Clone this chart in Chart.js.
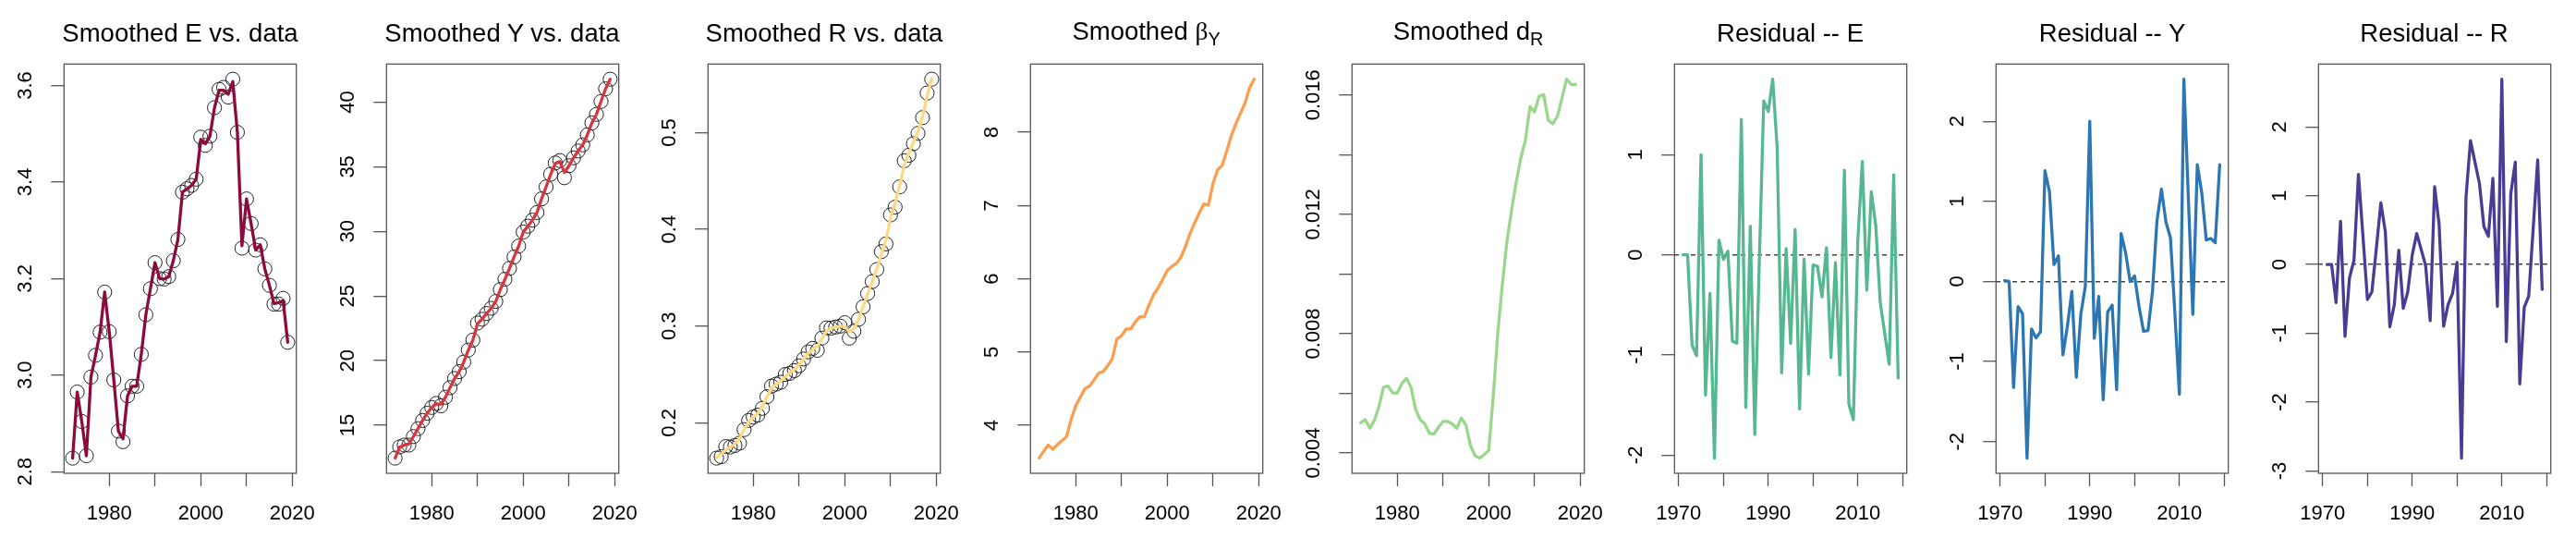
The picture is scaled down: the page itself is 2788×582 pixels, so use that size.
<!DOCTYPE html>
<html><head><meta charset="utf-8">
<script src="https://cdn.jsdelivr.net/npm/chart.js@4.4.1/dist/chart.umd.min.js"></script>
<style>
html,body{margin:0;padding:0;background:#fff;overflow:hidden;width:2788px;height:582px;}
#wrap{position:relative;width:2788px;height:582px;overflow:hidden;}
canvas{position:absolute;top:0;}
.title{position:absolute;font-family:'Liberation Sans',Arial,Helvetica,sans-serif;font-size:27.5px;line-height:1;white-space:nowrap;color:#000;transform:translateX(-50%);}
.title sub{font-size:72%;vertical-align:-0.3em;line-height:0;}
.greek{font-family:'Liberation Serif','DejaVu Serif',serif;}
</style></head><body><div id="wrap"></div>
<script>
// ---------- data ----------
const years = [1972,1973,1974,1975,1976,1977,1978,1979,1980,1981,1982,1983,1984,1985,1986,1987,1988,1989,1990,1991,1992,1993,1994,1995,1996,1997,1998,1999,2000,2001,2002,2003,2004,2005,2006,2007,2008,2009,2010,2011,2012,2013,2014,2015,2016,2017,2018,2019];
const residYears = [1971,1972,1973,1974,1975,1976,1977,1978,1979,1980,1981,1982,1983,1984,1985,1986,1987,1988,1989,1990,1991,1992,1993,1994,1995,1996,1997,1998,1999,2000,2001,2002,2003,2004,2005,2006,2007,2008,2009,2010,2011,2012,2013,2014,2015,2016,2017,2018,2019];

const E_data = [2.828,2.965,2.904,2.833,2.996,3.041,3.089,3.172,3.090,2.990,2.884,2.862,2.957,2.977,2.977,3.043,3.125,3.179,3.233,3.200,3.199,3.204,3.237,3.281,3.379,3.386,3.393,3.406,3.493,3.476,3.495,3.554,3.592,3.596,3.576,3.613,3.503,3.263,3.365,3.314,3.259,3.270,3.220,3.186,3.147,3.147,3.159,3.068];
const E_smooth = [2.828,2.965,2.904,2.833,2.996,3.041,3.089,3.172,3.090,2.990,2.884,2.868,2.957,2.977,2.977,3.043,3.125,3.179,3.233,3.200,3.199,3.204,3.237,3.281,3.379,3.386,3.393,3.406,3.488,3.479,3.495,3.554,3.590,3.590,3.582,3.608,3.503,3.268,3.365,3.314,3.259,3.270,3.220,3.186,3.148,3.150,3.154,3.068];

const Y_data = [12.46,13.33,13.47,13.47,14.13,14.74,15.37,15.93,16.38,16.69,16.51,17.17,17.91,18.62,19.15,19.89,20.82,21.59,22.91,23.20,23.65,24.05,24.58,25.50,26.30,27.14,28.02,28.86,29.95,30.40,30.87,31.46,32.51,33.44,34.42,35.29,35.48,34.15,35.08,35.69,36.22,36.69,37.46,38.39,39.05,40.05,41.03,41.77];
const Y_smooth = [12.46,13.30,13.47,13.55,14.13,14.74,15.37,15.93,16.38,16.66,16.62,17.17,17.91,18.62,19.15,19.89,20.82,21.59,22.85,23.22,23.65,24.05,24.58,25.50,26.30,27.14,28.02,28.86,29.95,30.40,30.87,31.46,32.51,33.44,34.42,35.25,35.40,34.55,35.08,35.69,36.22,36.69,37.46,38.39,39.05,40.05,41.03,41.77];

const R_data = [0.1635,0.165,0.1755,0.175,0.1766,0.179,0.193,0.2025,0.206,0.208,0.215,0.227,0.238,0.240,0.242,0.250,0.2512,0.254,0.259,0.266,0.2734,0.277,0.275,0.2876,0.2982,0.298,0.299,0.300,0.3035,0.2876,0.2947,0.307,0.320,0.3337,0.346,0.3585,0.377,0.385,0.415,0.423,0.444,0.471,0.4766,0.4887,0.4993,0.5156,0.541,0.5553];
const R_smooth = [0.164,0.168,0.172,0.175,0.178,0.184,0.193,0.201,0.206,0.210,0.217,0.227,0.236,0.240,0.243,0.248,0.252,0.255,0.260,0.266,0.272,0.276,0.279,0.287,0.295,0.298,0.299,0.300,0.300,0.294,0.297,0.307,0.320,0.333,0.346,0.359,0.374,0.389,0.412,0.427,0.446,0.466,0.479,0.490,0.501,0.517,0.538,0.556];

const betaY = [3.551,3.645,3.729,3.673,3.738,3.79,3.846,4.08,4.266,4.383,4.50,4.533,4.617,4.71,4.734,4.813,4.907,5.178,5.22,5.315,5.315,5.407,5.48,5.48,5.64,5.78,5.874,5.99,6.11,6.168,6.21,6.294,6.444,6.62,6.762,6.90,7.02,7.005,7.30,7.486,7.547,7.743,7.953,8.117,8.257,8.397,8.607,8.724];

const dR = [0.00501,0.005126,0.004828,0.005092,0.005552,0.006207,0.006241,0.006011,0.006011,0.006322,0.006506,0.006207,0.005471,0.005126,0.004977,0.004667,0.004632,0.004862,0.005057,0.005057,0.004977,0.004828,0.005172,0.004943,0.004253,0.003908,0.003828,0.003943,0.004092,0.005954,0.00808,0.00969,0.011126,0.012161,0.01308,0.013885,0.014483,0.015609,0.015437,0.015954,0.016011,0.015149,0.015034,0.015287,0.015897,0.016529,0.016356,0.016356];

const residE = [0,0,-0.90,-1.006,1.0,-1.40,-0.385,-2.03,0.145,-0.046,0.037,-0.862,-0.883,1.354,-1.523,0.286,-1.794,-0.08,1.538,1.431,1.754,1.062,-1.178,0.062,-0.883,0.255,-1.538,-0.04,-1.19,-0.10,-0.114,-0.42,0.071,-1.025,-0.077,-1.20,0.846,-1.492,-1.646,0.15,0.932,-0.354,0.631,0.292,-0.477,-0.785,-1.092,0.80,-1.23];
const residY = [0.01,0,-1.324,-0.315,-0.403,-2.207,-0.595,-0.706,-0.63,1.382,1.125,0.211,0.319,-0.917,-0.564,-0.123,-1.198,-0.411,-0.065,2.0,-0.71,-0.188,-1.478,-0.38,-0.296,-1.351,0.599,0.357,0.0,0.069,-0.315,-0.622,-0.614,-0.123,0.76,1.152,0.741,0.549,-0.40,-1.409,2.526,1.05,-0.411,1.459,1.106,0.518,0.537,0.484,1.459];
const residR = [0,0,-0.553,0.629,-1.044,-0.192,0.062,1.311,0.419,-0.508,-0.397,0.241,0.897,0.477,-0.905,-0.584,0.21,-0.638,-0.397,0.138,0.45,0.219,-0.018,-0.816,1.133,0.584,-0.897,-0.584,-0.419,0.031,-2.814,0.977,1.802,1.49,1.178,0.553,0.41,1.253,-0.607,2.694,-1.12,1.03,1.49,-1.735,-0.62,-0.459,0.53,1.521,-0.361];

// ---------- tick values / labels ----------
const xTicksMain = [1980,1990,2000,2010,2020];
const xLabelsMain = ['1980','','2000','','2020'];
const xTicksResid = [1970,1980,1990,2000,2010,2020];
const xLabelsResid = ['1970','','1990','','2010',''];
const yTicksE = [2.8,3.0,3.2,3.4,3.6];        const yLabelsE = ['2.8','3.0','3.2','3.4','3.6'];
const yTicksY = [15,20,25,30,35,40];          const yLabelsY = ['15','20','25','30','35','40'];
const yTicksR = [0.2,0.3,0.4,0.5];            const yLabelsR = ['0.2','0.3','0.4','0.5'];
const yTicksB = [4,5,6,7,8];                  const yLabelsB = ['4','5','6','7','8'];
const yTicksD = [0.004,0.006,0.008,0.010,0.012,0.014,0.016]; const yLabelsD = ['0.004','','0.008','','0.012','','0.016'];
const yTicksRE = [-2,-1,0,1];                 const yLabelsRE = ['-2','-1','0','1'];
const yTicksRY = [-2,-1,0,1,2];               const yLabelsRY = ['-2','-1','0','1','2'];
const yTicksRR = [-3,-2,-1,0,1,2];            const yLabelsRR = ['-3','-2','-1','0','1','2'];

// ---------- layout / style ----------
const SLOT = 348.5, CW = 390, H = 582;
const PLOT_L = 69.3, PLOT_T = 69.3, PLOT_B = 512;
const TICK_LEN = 14, Y_LABEL_CX = 27.5, LABEL_SIZE = 22;
const FONT = "'Liberation Sans', Arial, Helvetica, sans-serif";
Chart.defaults.font.family = FONT;

const panels = [
  {title:'Smoothed E vs. data', xs:years, pts:E_data, line:E_smooth, color:'#8C0B3D', yT:yTicksE, yL:yLabelsE, xT:xTicksMain, xL:xLabelsMain},
  {title:'Smoothed Y vs. data', xs:years, pts:Y_data, line:Y_smooth, color:'#D7353F', yT:yTicksY, yL:yLabelsY, xT:xTicksMain, xL:xLabelsMain},
  {title:'Smoothed R vs. data', xs:years, pts:R_data, line:R_smooth, color:'#FDD986', yT:yTicksR, yL:yLabelsR, xT:xTicksMain, xL:xLabelsMain},
  {html:'Smoothed <span class="greek">β</span><sub>Y</sub>', math:true, xs:years, line:betaY, color:'#FB9E4F', yT:yTicksB, yL:yLabelsB, xT:xTicksMain, xL:xLabelsMain},
  {html:'Smoothed d<sub>R</sub>', math:true, xs:years, line:dR, color:'#9AD78D', yT:yTicksD, yL:yLabelsD, xT:xTicksMain, xL:xLabelsMain},
  {title:'Residual -- E', xs:residYears, line:residE, color:'#55B890', yT:yTicksRE, yL:yLabelsRE, xT:xTicksResid, xL:xLabelsResid, zero:true},
  {title:'Residual -- Y', xs:residYears, line:residY, color:'#2C76B3', yT:yTicksRY, yL:yLabelsRY, xT:xTicksResid, xL:xLabelsResid, zero:true},
  {title:'Residual -- R', xs:residYears, line:residR, color:'#4A3C94', yT:yTicksRR, yL:yLabelsRR, xT:xTicksResid, xL:xLabelsResid, zero:true}
];

function extRange(arr){ const mn = Math.min(...arr), mx = Math.max(...arr), d = (mx-mn)*0.04; return [mn-d, mx+d]; }
const mctx = document.createElement('canvas').getContext('2d');
function yPadding(labels){
  mctx.font = 'normal ' + LABEL_SIZE + 'px ' + FONT;
  const w = Math.max(...labels.map(l => mctx.measureText(l).width));
  return PLOT_L - TICK_LEN - Y_LABEL_CX - w/2;
}

const boxPlugin = {
  id:'rbox',
  beforeDatasetsDraw(chart){
    const {ctx, chartArea:a} = chart;
    ctx.save(); ctx.strokeStyle = '#555'; ctx.lineWidth = 1.3;
    ctx.strokeRect(a.left, a.top, a.right-a.left, a.bottom-a.top);
    ctx.restore();
  }
};

const wrap = document.getElementById('wrap');
panels.forEach((p, k) => {
  const cv = document.createElement('canvas');
  cv.width = CW; cv.height = H;
  cv.style.left = (SLOT*k) + 'px'; cv.style.width = CW + 'px'; cv.style.height = H + 'px';
  wrap.appendChild(cv);

  const [xmin, xmax] = extRange(p.xs);
  const [ymin, ymax] = extRange(p.pts || p.line);

  const datasets = [{
    type:'scatter', showLine:true,
    data: p.xs.map((x,i)=>({x, y:p.line[i]})),
    borderColor:p.color, borderWidth:3.3, pointRadius:0, fill:false, tension:0,
    borderJoinStyle:'round', borderCapStyle:'round', order:0
  }];
  if (p.pts) datasets.push({
    type:'scatter', showLine:false,
    data: p.xs.map((x,i)=>({x, y:p.pts[i]})),
    pointRadius:7.6, pointBorderWidth:1, pointBorderColor:'#222', pointBackgroundColor:'rgba(0,0,0,0)',
    order:1, clip:false
  });

  new Chart(cv, {
    type:'scatter',
    data:{datasets},
    plugins:[boxPlugin],
    options:{
      responsive:false, animation:false, devicePixelRatio:1, events:[],
      layout:{padding:{left:0, right:CW-PLOT_L-(SLOT-PLOT_L-27.8)-(CW-SLOT-41.5) , top:PLOT_T, bottom:0}},
      plugins:{legend:{display:false}, tooltip:{enabled:false}, title:{display:false}},
      scales:{
        x:{
          type:'linear', position:'bottom', min:xmin, max:xmax,
          afterBuildTicks: s => { s.ticks = p.xT.map(v => ({value:v})); },
          afterFit: s => { s.height = H - PLOT_B; },
          grid:{drawOnChartArea:false, drawTicks:true, tickLength:TICK_LEN, tickColor:'#555', tickWidth:1.3},
          border:{display:false},
          ticks:{font:{size:LABEL_SIZE}, color:'#000', padding:16.8, minRotation:0, maxRotation:0, autoSkip:false,
                 callback:(v,i) => p.xL[i]}
        },
        y:{
          type:'linear', position:'left', min:ymin, max:ymax,
          afterBuildTicks: s => { s.ticks = p.yT.map(v => ({value:v})); },
          afterFit: s => { s.width = PLOT_L; },
          grid:{drawOnChartArea:!!p.zero, drawTicks:true, tickLength:TICK_LEN, tickColor:'#555', tickWidth:1.3,
                lineWidth:1.4, color: c => (p.zero && c.tick && c.tick.value === 0) ? '#444' : 'rgba(0,0,0,0)'},
          border:{display:false, dash:[5,4]},
          ticks:{font:{size:LABEL_SIZE}, color:'#000', minRotation:90, maxRotation:90, crossAlign:'center',
                 padding:yPadding(p.yL), autoSkip:false, callback:(v,i) => p.yL[i]}
        }
      }
    }
  });

  const t = document.createElement('div');
  t.className = 'title';
  if (p.html) t.innerHTML = p.html; else t.textContent = p.title;
  t.style.left = (SLOT*k + PLOT_L + 125.7) + 'px';
  t.style.top = (p.math ? 19.5 : 22.4) + 'px';
  wrap.appendChild(t);
});
</script>
</body></html>
